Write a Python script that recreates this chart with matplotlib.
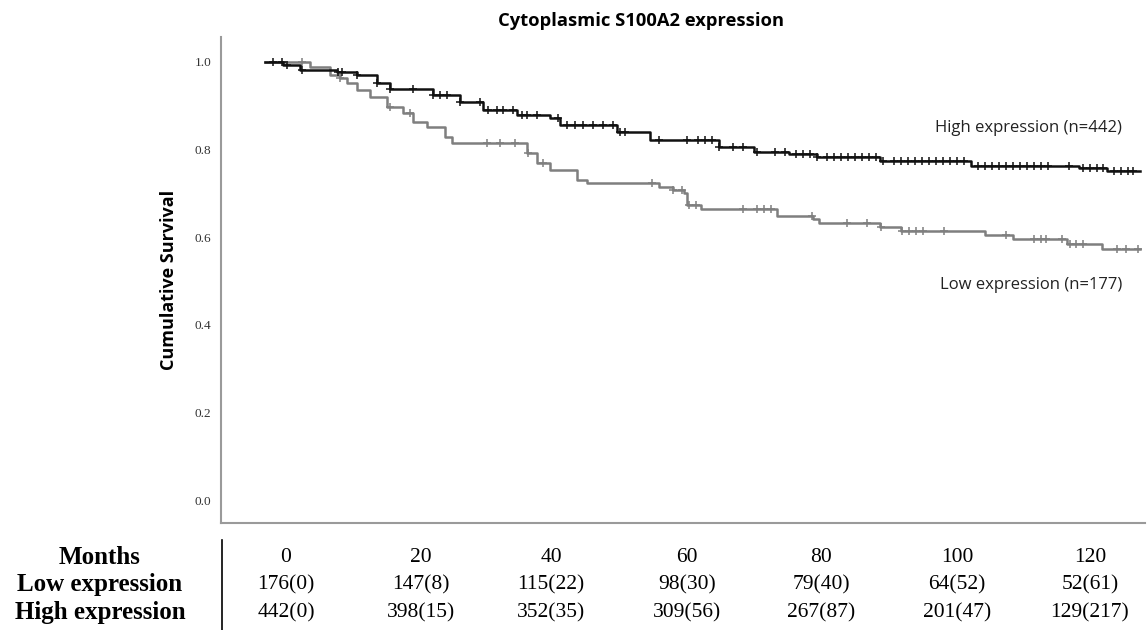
import matplotlib.pyplot as plt
import numpy as np

# Kaplan-Meier step points (months, survival after the step)
high_t = [0, 2.7, 5.2, 10.7, 13.7, 16.7, 18.7, 25.1, 29.1, 32.5, 37.6, 42.5, 44.0,
          52.5, 57.5, 67.8, 73.0, 78.2, 82.4, 91.8, 105.4, 121.5, 125.7]
high_s = [1.0, 0.992, 0.981, 0.976, 0.970, 0.951, 0.937, 0.924, 0.908, 0.890, 0.878,
          0.871, 0.855, 0.839, 0.821, 0.805, 0.794, 0.789, 0.782, 0.773, 0.763, 0.757, 0.751]
high_end = 130.6

low_t = [0, 6.7, 9.7, 11.2, 12.2, 13.7, 15.7, 18.2, 20.6, 22.1, 24.2, 26.9, 27.9,
         39.1, 40.6, 42.5, 46.6, 48.0, 58.8, 60.9, 62.5, 63.0, 65.1, 76.4, 81.8,
         82.7, 91.8, 94.9, 107.5, 111.6, 119.7, 124.9]
low_s = [1.0, 0.987, 0.969, 0.962, 0.951, 0.935, 0.919, 0.896, 0.883, 0.862, 0.851,
         0.828, 0.814, 0.792, 0.769, 0.753, 0.730, 0.723, 0.714, 0.707, 0.700, 0.673,
         0.664, 0.648, 0.641, 0.632, 0.623, 0.614, 0.605, 0.596, 0.584, 0.573]
low_end = 130.6

# censored observations (months)
high_cens = [1.2, 2.5, 3.3, 5.5, 10.9, 11.5, 13.7, 16.7, 18.7, 22.1, 25.1, 26.1, 27.2,
             29.1, 32.1, 33.3, 34.6, 35.5, 37.0, 38.4, 39.1, 40.6, 43.7, 45.1, 46.3,
             47.5, 49.0, 50.4, 51.9, 53.0, 53.7, 58.8, 63.0, 64.6, 65.7, 66.7, 67.8,
             69.9, 71.3, 73.4, 76.1, 77.6, 79.3, 80.3, 81.3, 82.4, 83.9, 84.9, 86.0,
             87.0, 88.1, 89.1, 90.1, 91.2, 92.2, 93.9, 94.9, 96.0, 97.0, 98.1, 99.1,
             100.1, 101.2, 102.2, 103.3, 104.3, 106.4, 107.5, 108.5, 109.6, 110.6,
             111.6, 112.7, 113.7, 114.8, 115.8, 116.9, 120.0, 122.1, 123.1, 124.2,
             125.1, 126.7, 127.8, 128.8, 129.6]
low_cens = [5.5, 11.2, 18.7, 21.6, 33.1, 35.1, 37.3, 39.3, 41.5, 57.8, 60.9, 62.2, 63.3,
            64.3, 71.3, 73.4, 74.5, 75.5, 81.6, 86.9, 89.9, 91.9, 95.1, 96.1, 97.2,
            98.2, 101.3, 110.6, 114.8, 115.8, 116.6, 119.0, 120.1, 121.0, 122.1,
            127.2, 128.5, 130.3]

# number at risk table
months = ["0", "20", "40", "60", "80", "100", "120"]
low_risk = ["176(0)", "147(8)", "115(22)", "98(30)", "79(40)", "64(52)", "52(61)"]
high_risk = ["442(0)", "398(15)", "352(35)", "309(56)", "267(87)", "201(47)", "129(217)"]
row_labels = ["Months", "Low expression", "High expression"]

fig = plt.figure(figsize=(11.48, 6.3), dpi=100)
ax = fig.add_axes([0.1925, 0.1703, 0.8045, 0.771])


def draw_km(t, s, end, cens, color):
    tt = list(t) + [end]
    ss = list(s) + [s[-1]]
    ax.step(tt, ss, where='post', color=color, lw=1.8)
    idx = np.searchsorted(t, cens, side='right') - 1
    cy = np.array(s)[idx]
    ax.plot(cens, cy, ls='none', marker='+', color=color, ms=6, mew=1.1)


draw_km(low_t, low_s, low_end, low_cens, '#7f7f7f')
draw_km(high_t, high_s, high_end, high_cens, '#111111')

ax.set_xlim(-6.6, 131.3)
ax.set_ylim(-0.0506, 1.056)
ax.set_yticks([0.0, 0.2, 0.4, 0.6, 0.8, 1.0])
ax.set_yticklabels(["0.0", "0.2", "0.4", "0.6", "0.8", "1.0"],
                   fontsize=9.5, family='Liberation Serif', color='#333333')
ax.set_xticks([])
ax.tick_params(axis='y', length=0, pad=7)
for side in ['top', 'right']:
    ax.spines[side].set_visible(False)
for side in ['left', 'bottom']:
    ax.spines[side].set_color('#9a9a9a')
    ax.spines[side].set_linewidth(1.5)

ax.set_ylabel("Cumulative Survival", fontsize=13, family='Open Sans',
              fontweight='bold', labelpad=12)

ax.text(127.9, 0.849, "High expression (n=442)", ha='right', va='center',
        fontsize=12, family='Open Sans', color='#222222')
ax.text(127.9, 0.491, "Low expression (n=177)", ha='right', va='center',
        fontsize=12, family='Open Sans', color='#222222')

fig.text(641 / 1148, 1 - 21 / 630, "Cytoplasmic S100A2 expression", ha='center',
         va='center', fontsize=13.2, family='Open Sans', fontweight='bold')

# number-at-risk table below the plot
col_x = [286, 421, 551, 687, 821, 957, 1090]
row_y = [558, 585, 613]
rows = [months, low_risk, high_risk]
for ry, lab, vals in zip(row_y, row_labels, rows):
    fig.text(100 / 1148, 1 - ry / 630, lab, ha='center', va='center',
             fontsize=18, family='Liberation Serif', fontweight='bold')
    for cx, v in zip(col_x, vals):
        fig.text(cx / 1148, 1 - ry / 630, v, ha='center', va='center',
                 fontsize=15.5, family='Liberation Serif')
fig.add_artist(plt.Line2D([222 / 1148, 222 / 1148], [1 - 540 / 630, 0],
                          color='black', lw=1.2))

fig.savefig("out.png", dpi=100)
